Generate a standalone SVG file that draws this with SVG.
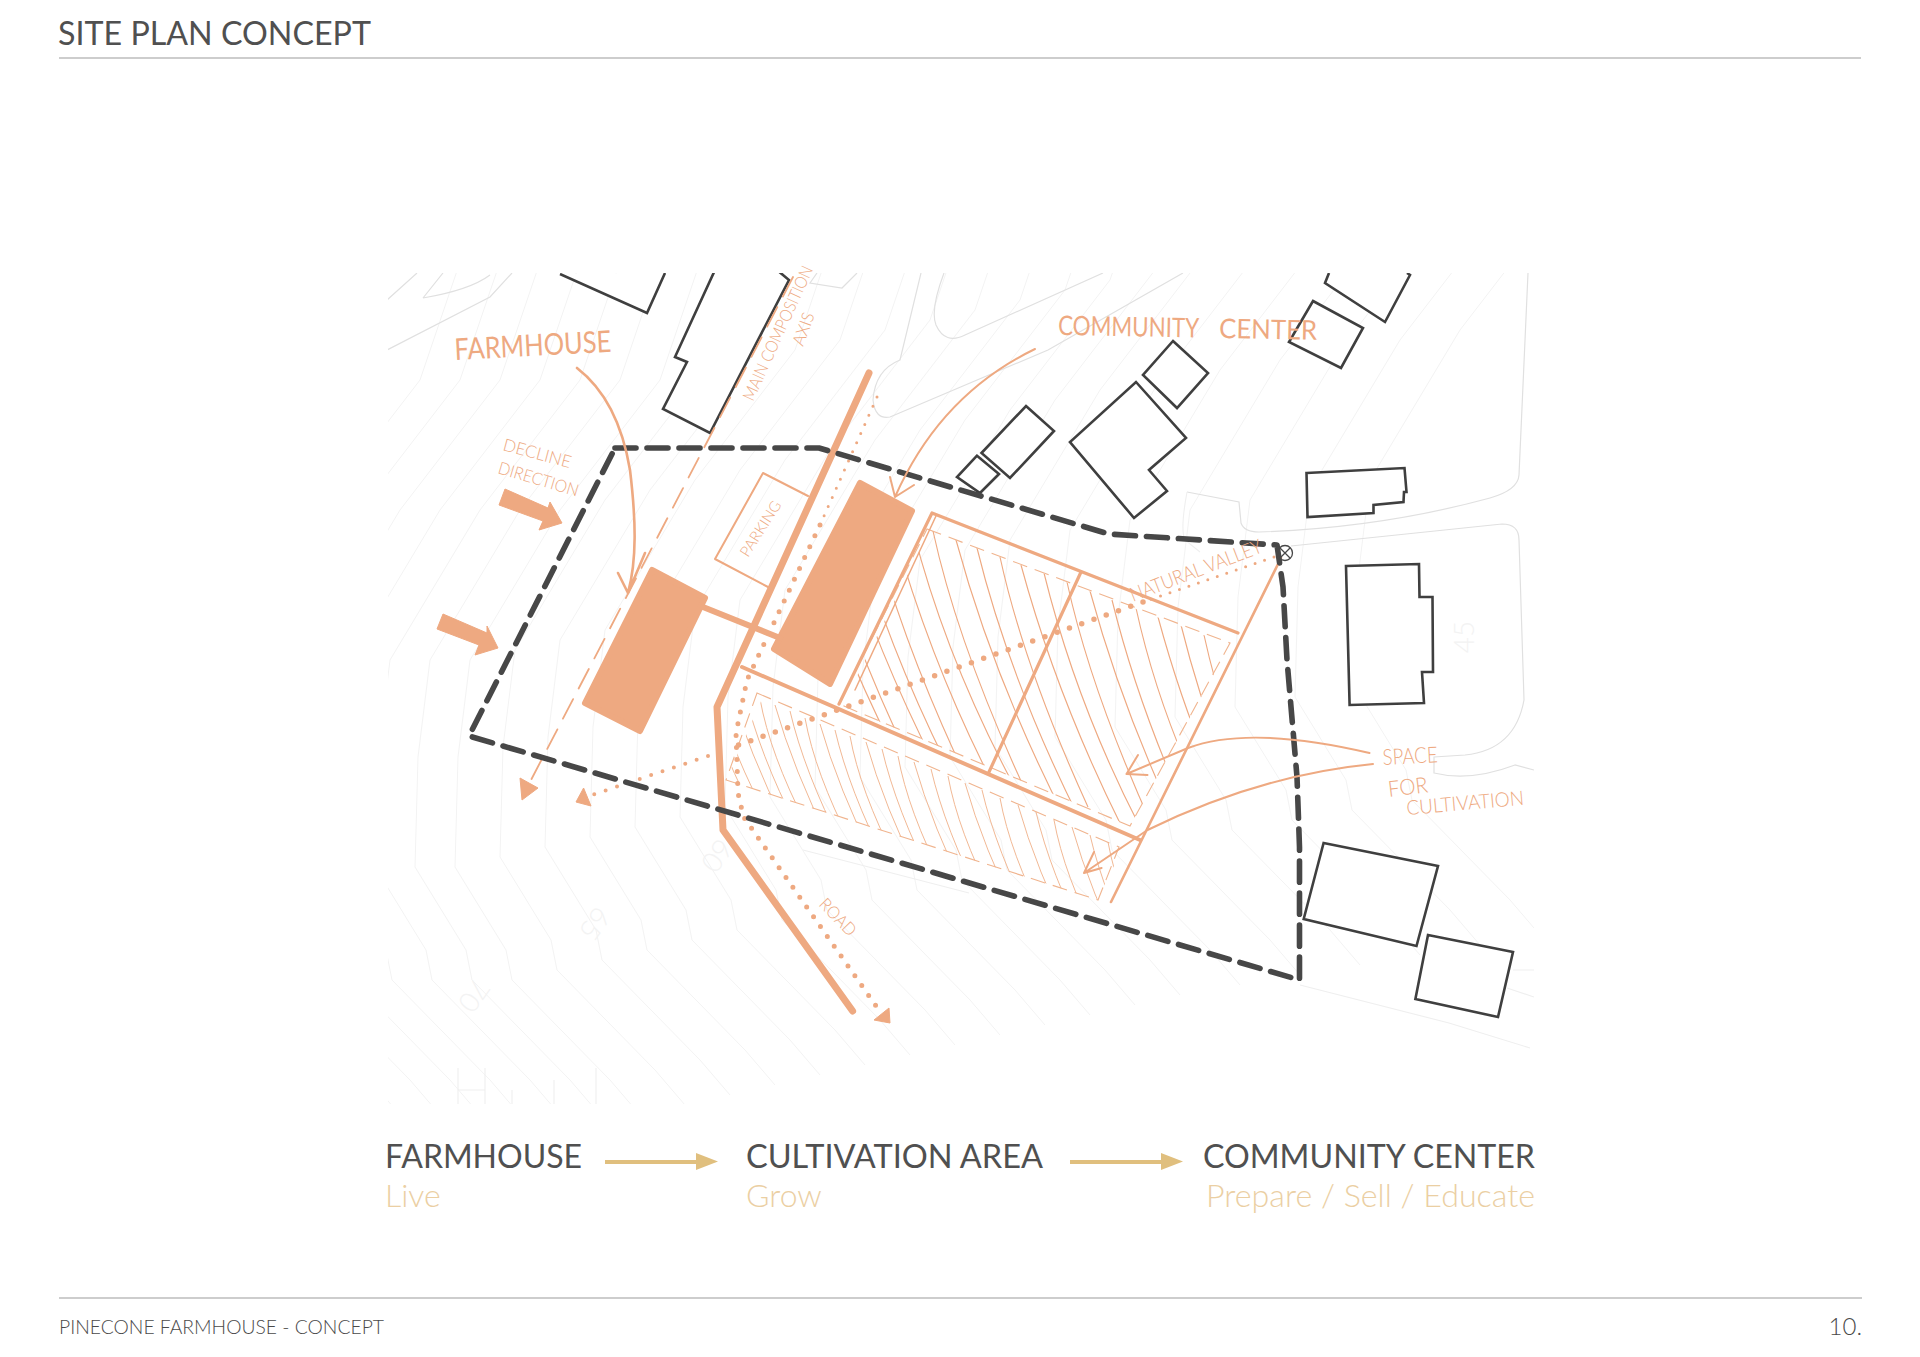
<svg xmlns="http://www.w3.org/2000/svg" xmlns:xlink="http://www.w3.org/1999/xlink" width="1920" height="1357" viewBox="0 0 1920 1357">
<style>
text{font-family:"Lato","Liberation Sans",sans-serif}
.head{font-size:32px;fill:#505050}
.sub{font-size:32px;font-weight:300;fill:#ebcfa3}
.foot{font-size:19px;font-weight:300;fill:#4a4a4a}
.hand{fill:#eea981;font-weight:400}
.thin{fill:#eea981;font-weight:300}
.rule{stroke:#bdbdbd;stroke-width:1.6;fill:none}
.contour{fill:none;stroke:#f3f3f3;stroke-width:1}
.gray{fill:none;stroke:#e0e0e0;stroke-width:1.2}
.lightgray{fill:none;stroke:#efefef;stroke-width:1.1}
.num{font-size:28px;font-weight:300;fill:#f3f3f3}
.bldg{fill:#fff;stroke:#3f3f3f;stroke-width:2.6;stroke-linejoin:miter}
.or{fill:none;stroke:#eea981;stroke-linecap:round;stroke-linejoin:round}
.fill{fill:#eea981;stroke:#eea981;stroke-width:6;stroke-linejoin:round}
.ah{fill:#eea981;stroke:#eea981;stroke-width:1;stroke-linejoin:round}
.dash{fill:none;stroke:#f0b48e;stroke-width:1.1;stroke-dasharray:15 8}
.hatch{fill:none;stroke:#eea981;stroke-width:1.15}
.hatchb{fill:none;stroke:#f0b48e;stroke-width:.95}
.dot{fill:none;stroke:#eea981;stroke-linecap:round}
.legend{fill:none;stroke:#e0bf7e;stroke-width:4}
</style>
<defs>
<clipPath id="map"><rect x="388" y="273" width="1146" height="831"/></clipPath>
<clipPath id="fieldA"><polygon points="930,530 1230,645 1130,826 842,706"/></clipPath>
<clipPath id="fieldB"><polygon points="766,690 1128,838 1097,900 726,780"/></clipPath>
<path id="c" d="M700 262L660 380L560 510L470 660L458 757L455 867L506 950L512 980L610 1080L640 1115"/>
</defs>
<rect width="1920" height="1357" fill="#fff"/>

<g id="header">
<text class="head" x="58" y="45" textLength="313" lengthAdjust="spacingAndGlyphs">SITE PLAN CONCEPT</text>
<path class="rule" d="M59 58H1861"/>
</g>

<g id="base-contours" clip-path="url(#map)">
<use class="contour" href="#c" transform="translate(-240 0)"/>
<use class="contour" href="#c" transform="translate(-200 0)"/>
<use class="contour" href="#c" transform="translate(-160 0)"/>
<use class="contour" href="#c" transform="translate(-120 0)"/>
<use class="contour" href="#c" transform="translate(-80 0)"/>
<use class="contour" href="#c" transform="translate(-40 0)"/>
<use class="contour" href="#c"/>
<use class="contour" href="#c" transform="translate(45 -10)"/>
<use class="contour" href="#c" transform="translate(90 -20)"/>
<use class="contour" href="#c" transform="translate(135 -30)"/>
<use class="contour" href="#c" transform="translate(180 -40)"/>
<use class="contour" href="#c" transform="translate(225 -50)"/>
<use class="contour" href="#c" transform="translate(270 -60)"/>
<use class="contour" href="#c" transform="translate(315 -70)"/>
<use class="contour" href="#c" transform="translate(360 -80)"/>
<use class="contour" href="#c" transform="translate(405 -90)"/>
<use class="contour" href="#c" transform="translate(450 -100)"/>
<use class="contour" href="#c" transform="translate(495 -110)"/>
<use class="contour" href="#c" transform="translate(540 -120)"/>
<use class="contour" href="#c" transform="translate(600 -130)"/>
<use class="contour" href="#c" transform="translate(660 -140)"/>
<use class="contour" href="#c" transform="translate(720 -150)"/>
<use class="contour" href="#c" transform="translate(780 -160)"/>
<use class="contour" href="#c" transform="translate(840 -170)"/>
<use class="contour" href="#c" transform="translate(900 -180)"/>
<path class="gray" d="M387 300L417 273M423 298L443 273M423 298Q470 290 490 275M387 350L490 297L512 273"/>
<path class="gray" d="M817 273L810 283L842 288L857 273M921 273L900 360Q875 370 873 400Q875 420 890 417L1048 350L1183 273M944 273Q930 310 936 325Q945 345 965 335L1103 273"/>
<path class="gray" d="M1187 492L1239 502L1241 523Q1244 532 1259 532Q1380 528 1490 498Q1518 490 1519 475L1528 273"/>
<path class="gray" d="M1291 546Q1400 535 1502 524Q1519 524 1519 540L1524 700Q1515 750 1465 755L1434 757V773Q1470 782 1515 765L1534 770"/>
<path class="lightgray" d="M1187 492Q1180 530 1185 540L1200 552M803 850L969 893M1300 985L1449 1023L1530 1048M1513 970H1534M1507 988L1534 997"/>
<path class="lightgray" d="M458 1068V1104M485 1068V1104M458 1090H485M512 1090V1104M554 1080V1104M596 1068V1104"/>
<text class="num" transform="translate(709 850) rotate(125)" text-anchor="middle">60</text>
<text class="num" transform="translate(587 918) rotate(125)" text-anchor="middle">65</text>
<text class="num" transform="translate(466 990) rotate(125)" text-anchor="middle">70</text>
<text class="num" transform="translate(1474 637) rotate(-90)" text-anchor="middle">45</text>
</g>

<g id="buildings" clip-path="url(#map)">
<polyline id="b1" class="bldg" points="560,274 647,313 665,273"/>
<polygon id="b2" class="bldg" points="715,270 675,357 687,362 663,409 710,433 789,280 777,270"/>
<polygon id="b4" class="bldg" points="1026,406 1054,431 1010,478 981.5,453"/>
<polygon id="b3" class="bldg" points="977,455.7 957,477 980,493 999,474"/>
<polygon id="b5" class="bldg" points="1136,382 1186,438 1149,470 1167,491 1134,518 1070,442"/>
<polygon id="b6" class="bldg" points="1173,341 1208,373 1177,408 1143,375"/>
<polygon id="b7" class="bldg" points="1313,301 1363,328 1341,368 1289,342"/>
<polyline id="b8" class="bldg" points="1329,273 1325,283 1385,322 1410,275 1407,273"/>
<polygon id="b9" class="bldg" points="1306.5,473 1404.5,468 1406.5,492 1404,492 1403.5,502 1373.5,505 1373.5,513 1307.5,517"/>
<polygon id="b10" class="bldg" points="1346,566 1419,564 1419.5,597 1432.5,597 1433,672 1422,672 1424,703 1349.6,705"/>
<polygon id="b11" class="bldg" points="1323.6,843 1438,866 1416.5,946 1303.7,919"/>
<polygon id="b12" class="bldg" points="1428,935 1513,952 1498,1017 1415.4,999"/>
</g>

<g id="cultivation-fields">
<path class="hatch" clip-path="url(#fieldA)" d="M790 477q32 130 102 270M809 484q24 110 88 250M828 491q38 140 110 280M847 499q32 130 102 270M868 506q24 110 88 250M889 514q38 140 100 262M911 522q32 130 102 262M933 531q24 110 88 250M956 540q38 140 110 280M977 548q32 130 102 270M1000 557q24 110 88 250M1021 565q38 140 110 280M1044 573q32 130 96 254M1067 582q24 110 88 250M1090 591q38 140 110 280M1112 600q32 130 102 270M1136 608q24 110 80 220M1158 617q38 140 96 240M1181 625q32 130 102 270M1204 635q24 110 88 250"/>
<path class="hatchb" clip-path="url(#fieldB)" d="M700 675q14 60 52 135M715 681q10 55 46 125M730 687q18 64 56 140M745 693q14 60 52 135M760 699q10 55 46 125M775 705q18 64 56 140M790 711q14 60 52 135M805 718q10 55 46 125M820 724q18 64 56 140M835 730q14 60 52 135M850 736q10 55 46 125M866 742q18 64 56 140M882 749q14 60 52 135M898 756q10 55 46 125M914 762q18 64 56 140M931 769q14 60 52 135M948 776q10 55 46 125M965 783q18 64 56 140M982 790q14 60 52 135M1000 798q10 55 46 125M1018 805q18 64 56 140M1036 812q14 60 52 135M1054 820q10 55 46 125M1072 827q18 64 56 140M1090 835q14 60 52 135M1108 842q10 55 46 125"/>
<polygon class="dash" points="927,529 1230,643 1130,826 839,704"/>
<polygon class="dash" points="757,693 1119,847 1098,900 726,780"/>
<path class="or" stroke-width="3.2" d="M839 704L932 513L1238 633"/>
<path class="or" stroke-width="4" d="M742 667L1140 840"/>
<path class="or" stroke-width="2.6" d="M1281 558L1111 902"/>
<path class="or" stroke-width="3.2" d="M1081 572L989 772"/>
<path class="or" stroke-width="1.5" d="M936 516L855 690"/>
</g>

<g id="farmhouse"><polygon class="fill" points="652,570 705,598 640,731 585,703"/></g>
<g id="community-center"><polygon class="fill" points="860,483 912,511 830,684 774,649"/></g>

<g id="parking">
<polyline class="or" stroke-width="2" points="808,496 763,473 715,559 768,587"/>
<text class="thin" font-size="15" transform="translate(748 558) rotate(-57.5)" textLength="63" lengthAdjust="spacingAndGlyphs">PARKING</text>
</g>

<g id="connectors">
<path class="or" stroke-width="6" d="M703 607L780 638"/>
<path class="or" stroke-width="7" d="M869 373L717 707L723 830L852.6 1011"/>
<g id="road-dots">
<path class="dot" stroke-width="3" stroke-dasharray="0 10" d="M877 397L820 525"/>
<path class="dot" stroke-width="5" stroke-dasharray="0 12" d="M820 525L747 680L736 733L738 793L743.6 817L877.5 1008"/>
<polygon class="ah" points="889,1008 890,1023 874,1020"/>
</g>
<g id="valley-dots">
<path class="dot" stroke-width="3" stroke-dasharray="0 10" d="M1274 557L1143 602"/>
<path class="dot" stroke-width="5.5" stroke-dasharray="0 13" d="M1143 602L730 748"/>
<path class="dot" stroke-width="4" stroke-dasharray="0 12" d="M708 756L592 795"/>
<polygon class="ah" points="583.6,788 591,806 576,802"/>
</g>
<g id="axis-dashed">
<path class="or" stroke-width="1.8" stroke-linecap="butt" stroke-dasharray="22 12" d="M793 277L531 780"/>
<polygon class="ah" points="520,778 538,788 522,800"/>
</g>
</g>

<g id="decline-arrows">
<polygon class="ah" points="505,489 548,508 550,502 562,523 539,530 543,521 499,505"/>
<polygon class="ah" points="443,614 487,633 487,626 498,648 475,655 479,645 437,629"/>
</g>

<g id="site-boundary">
<path fill="none" stroke="#474747" stroke-width="5.6" stroke-linecap="round" stroke-linejoin="round" stroke-dasharray="21 11" d="M615 448H819L1109 534L1277 545L1283 587L1287 660L1297 777L1299.5 847V980L469 736Z"/>
<circle cx="1285" cy="553" r="7.5" fill="none" stroke="#474747" stroke-width="1.3"/>
<path fill="none" stroke="#474747" stroke-width="1.3" d="M1280 548L1290 558M1290 548L1280 558"/>
</g>

<g id="annotation-arrows">
<path class="or" stroke-width="2.6" d="M577 368C612 395 625 440 630 470C636 520 637 560 628 593M618 573L628 593L645 553"/>
<path class="or" stroke-width="2" d="M1035 349Q940 395 895 497M890 477L895 497L914 485"/>
<path class="or" stroke-width="2" d="M1369.5 753Q1250 725 1188 748L1126.5 774M1138 755L1126.5 774L1147.5 775"/>
<path class="or" stroke-width="2" d="M1373 764Q1260 775 1147.5 830L1084 873M1094 852L1084 873L1101.6 868"/>
</g>

<g id="sketch-labels">
<text class="hand" font-size="30" transform="translate(455 360) rotate(-3)" textLength="157" lengthAdjust="spacingAndGlyphs">FARMHOUSE</text>
<text class="thin" font-size="17" transform="translate(502 450) rotate(15)" textLength="70" lengthAdjust="spacingAndGlyphs">DECLINE</text>
<text class="thin" font-size="17" transform="translate(497 473) rotate(16.5)" textLength="83" lengthAdjust="spacingAndGlyphs">DIRECTION</text>
<text class="thin" font-size="17" transform="translate(753 402) rotate(-65.5)" textLength="146" lengthAdjust="spacingAndGlyphs">MAIN COMPOSITION</text>
<text class="thin" font-size="17" transform="translate(803 347) rotate(-70)" textLength="34" lengthAdjust="spacingAndGlyphs">AXIS</text>
<text class="hand" font-size="27" transform="translate(1058 335) rotate(1)" textLength="141" lengthAdjust="spacingAndGlyphs">COMMUNITY</text>
<text class="hand" font-size="27" transform="translate(1219 338) rotate(1)" textLength="98" lengthAdjust="spacingAndGlyphs">CENTER</text>
<text class="thin" font-size="20" transform="translate(1133 602) rotate(-21)" textLength="140" lengthAdjust="spacingAndGlyphs">NATURAL VALLEY</text>
<text class="thin" font-size="22" transform="translate(1383 765) rotate(-3)" textLength="55" lengthAdjust="spacingAndGlyphs">SPACE</text>
<text class="thin" font-size="22" transform="translate(1389 797) rotate(-7)" textLength="40" lengthAdjust="spacingAndGlyphs">FOR</text>
<text class="thin" font-size="20" transform="translate(1407 815) rotate(-5)" textLength="118" lengthAdjust="spacingAndGlyphs">CULTIVATION</text>
<text class="thin" font-size="17" transform="translate(818 905) rotate(46)" textLength="45" lengthAdjust="spacingAndGlyphs">ROAD</text>
</g>

<g id="legend-farmhouse">
<text class="head" x="385" y="1168" textLength="197" lengthAdjust="spacingAndGlyphs">FARMHOUSE</text>
<text class="sub" x="385" y="1207">Live</text>
</g>
<g id="legend-cultivation">
<text class="head" x="746" y="1168" textLength="297" lengthAdjust="spacingAndGlyphs">CULTIVATION AREA</text>
<text class="sub" x="746" y="1207">Grow</text>
</g>
<g id="legend-community">
<text class="head" x="1203" y="1168" textLength="332" lengthAdjust="spacingAndGlyphs">COMMUNITY CENTER</text>
<text class="sub" x="1206" y="1207" textLength="329" lengthAdjust="spacingAndGlyphs">Prepare / Sell / Educate</text>
</g>
<g id="legend-arrows">
<path class="legend" d="M605 1162H698M1070 1162H1163"/>
<polygon fill="#e0bf7e" points="696,1153 718,1161.5 696,1170"/>
<polygon fill="#e0bf7e" points="1161,1153 1183,1161.5 1161,1170"/>
</g>

<g id="footer">
<path class="rule" d="M59 1298H1862"/>
<text class="foot" x="59" y="1334" textLength="325" lengthAdjust="spacingAndGlyphs">PINECONE FARMHOUSE - CONCEPT</text>
<text class="foot" x="1862" y="1335" text-anchor="end" style="font-size:24px">10.</text>
</g>
</svg>
